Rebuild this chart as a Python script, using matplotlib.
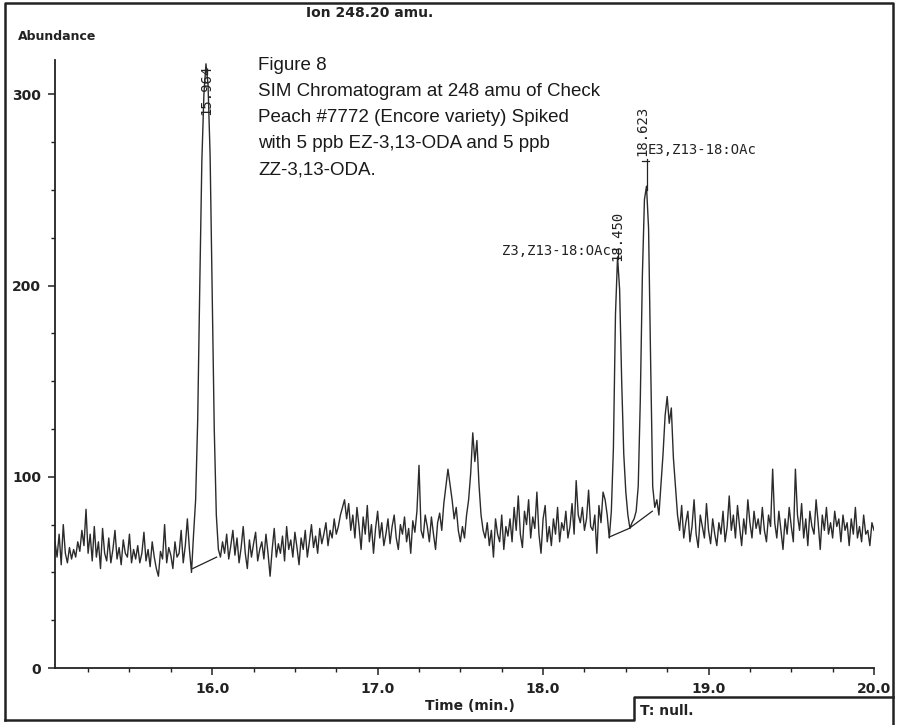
import numpy as np
import matplotlib
matplotlib.use("Agg")
import matplotlib.pyplot as plt
from matplotlib.lines import Line2D
from matplotlib.ticker import MultipleLocator, FormatStrFormatter

# SIM trace, ion 248.20 amu, one reading every 0.0125 min from 15.05 min
t_start = 15.05
t_step = 0.0125
abundance = [
    66, 58, 70, 54, 75, 60, 55, 63, 57, 62, 58, 66, 61, 72, 64, 83, 60, 70, 56, 74,        # 15.05
    58, 66, 52, 73, 60, 56, 68, 55, 62, 72, 57, 63, 54, 67, 60, 58, 70, 55, 62, 57,        # 15.30
    64, 55, 60, 71, 56, 62, 53, 66, 58, 52, 48, 61, 57, 75, 55, 63, 59, 52, 66, 58,        # 15.55
    60, 72, 55, 64, 78, 62, 50, 70, 88, 130, 200, 265, 300, 316, 305, 268, 195, 125, 80, 62,  # 15.80
    58, 66, 60, 70, 57, 64, 72, 59, 68, 55, 63, 74, 60, 52, 67, 58, 65, 71, 56, 62,        # 16.05
    66, 57, 70, 60, 48, 62, 73, 58, 65, 60, 69, 56, 74, 62, 67, 58, 71, 63, 54, 68,        # 16.30
    62, 72, 58, 66, 75, 63, 69, 60, 73, 65, 70, 76, 64, 72, 68, 78, 70, 74, 80, 84,        # 16.55
    88, 78, 86, 72, 80, 68, 84, 74, 62, 79, 70, 85, 66, 75, 60, 73, 82, 68, 76, 64,        # 16.80
    70, 78, 65, 74, 80, 68, 62, 75, 70, 79, 66, 73, 60, 77, 71, 82, 106, 72, 68, 80,       # 17.05
    74, 66, 79, 70, 62, 76, 81, 72, 86, 95, 104, 96, 88, 78, 84, 72, 66, 74, 68, 80,       # 17.30
    88, 102, 123, 108, 119, 96, 80, 72, 68, 76, 64, 72, 58, 78, 70, 66, 80, 62, 74, 69,    # 17.55
    78, 66, 84, 72, 90, 70, 63, 82, 75, 88, 68, 79, 73, 92, 70, 60, 78, 85, 66, 74,        # 17.80
    64, 78, 70, 84, 66, 76, 72, 82, 68, 74, 86, 70, 98, 80, 76, 84, 72, 78, 93, 74,        # 18.05
    72, 80, 60, 85, 76, 92, 88, 80, 68, 82, 115, 185, 215, 198, 150, 112, 92, 80, 73, 76,  # 18.30
    78, 82, 95, 140, 205, 245, 252, 230, 160, 95, 84, 88, 80, 96, 112, 132, 142, 128, 136, 110,  # 18.55
    95, 80, 72, 85, 68, 76, 82, 66, 74, 88, 70, 63, 80, 74, 68, 86, 72, 65, 78, 70,        # 18.80
    64, 76, 70, 82, 66, 74, 90, 72, 80, 68, 85, 74, 64, 78, 70, 88, 76, 68, 82, 73,        # 19.05
    78, 70, 84, 72, 66, 80, 74, 104, 76, 68, 82, 72, 62, 78, 70, 84, 74, 66, 104, 80,      # 19.30
    72, 86, 68, 78, 64, 82, 74, 70, 88, 76, 62, 80, 72, 84, 70, 76, 68, 82, 74, 78,        # 19.55
    66, 80, 72, 76, 64, 78, 70, 84, 68, 74, 66, 80, 70, 72, 64, 76, 72,                    # 19.80
]
time = t_start + t_step * np.arange(len(abundance))

# integration baselines drawn under the peaks
base1_t = [15.882, 16.027]
base1_y = [52, 58]
base2_t = [18.40, 18.52, 18.66]
base2_y = [68.5, 73, 82]

# labelled peaks
peak_rt = ["15.964", "18.450", "18.623"]

note_lines = [
    "Figure 8",
    "SIM Chromatogram at 248 amu of Check",
    "Peach #7772 (Encore variety) Spiked",
    "with 5 ppb EZ-3,13-ODA and 5 ppb",
    "ZZ-3,13-ODA.",
]

W, H = 897, 725


def fx(px):
    return px / W


def fy(py):
    return 1 - py / H


fig = plt.figure(figsize=(W / 100, H / 100), dpi=100)
ax = fig.add_axes([fx(55), fy(668), fx(874) - fx(55), fy(60) - fy(668)])

ink = "#222222"
ax.plot(time, abundance, color="#2b2b2b", lw=1.0)
ax.plot(base1_t, base1_y, color=ink, lw=0.9)
ax.plot(base2_t, base2_y, color=ink, lw=0.9)

ax.set_xlim(15.05, 20.0)
ax.set_ylim(0, 318)
for s in ["top", "right"]:
    ax.spines[s].set_visible(False)
for s in ["left", "bottom"]:
    ax.spines[s].set_linewidth(1.3)
    ax.spines[s].set_color(ink)

ax.set_xticks([16, 17, 18, 19, 20])
ax.xaxis.set_major_formatter(FormatStrFormatter("%.1f"))
ax.xaxis.set_minor_locator(MultipleLocator(0.25))
ax.set_yticks([0, 100, 200, 300])
ax.yaxis.set_minor_locator(MultipleLocator(25))
ax.tick_params(which="major", direction="out", length=5, width=1.1, color=ink, pad=5)
ax.tick_params(which="minor", direction="out", length=3, width=1.0, color=ink)
for lab in ax.get_xticklabels() + ax.get_yticklabels():
    lab.set_fontfamily("DejaVu Sans")
    lab.set_fontweight("bold")
    lab.set_fontsize(10)
    lab.set_color(ink)

# peak labels
mono = dict(family="DejaVu Sans Mono", fontsize=10, color=ink, clip_on=False)
ax.text(15.962, 289, peak_rt[0], rotation=90, ha="center", va="bottom", **mono)

ax.plot([18.45, 18.45, 18.418], [214, 219, 219], color=ink, lw=0.9)
ax.text(18.447, 213, peak_rt[1], rotation=90, ha="center", va="bottom", **mono)
ax.text(18.41, 218, "Z3,Z13-18:OAc", ha="right", va="center", **mono)

ax.plot([18.625, 18.625], [250, 266], color=ink, lw=0.9)
ax.plot([18.60, 18.64], [265, 265], color=ink, lw=0.9)
ax.text(18.600, 268, peak_rt[2], rotation=90, ha="center", va="bottom", **mono)
ax.text(18.633, 271, "E3,Z13-18:OAc", ha="left", va="center", **mono)

# header, axis titles, note block
bold = dict(family="DejaVu Sans", fontweight="bold", color=ink)
fig.text(fx(370), fy(13), "Ion 248.20 amu.", ha="center", va="center", fontsize=10, **bold)
fig.text(fx(18), fy(37), "Abundance", ha="left", va="center", fontsize=9, **bold)
fig.text(fx(470), fy(706), "Time (min.)", ha="center", va="center", fontsize=10, **bold)
fig.text(fx(640), fy(711), "T: null.", ha="left", va="center", fontsize=10, **bold)

for i, line in enumerate(note_lines):
    fig.text(fx(258), fy(66 + 26 * i), line, ha="left", va="center",
             family="Liberation Sans", fontsize=13.5, color="#1a1a1a")

# printout frame
frame_x = [5, 5, 893, 893]
frame_y = [720, 3, 3, 725]
fig.add_artist(Line2D([fx(v) for v in frame_x], [fy(v) for v in frame_y],
                      color=ink, lw=1.8))
foot_x = [5, 634, 634, 893]
foot_y = [720, 720, 697, 697]
fig.add_artist(Line2D([fx(v) for v in foot_x], [fy(v) for v in foot_y],
                      color=ink, lw=1.8))

fig.savefig("out.png", dpi=100, facecolor="white")
